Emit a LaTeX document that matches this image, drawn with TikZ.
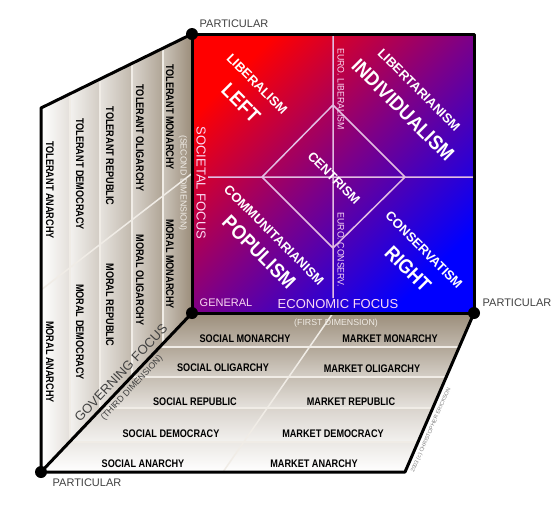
\documentclass[tikz,border=0pt]{standalone}
\usepackage{fontspec}
\setmainfont{Liberation Sans}
\usetikzlibrary{calc}
\definecolor{taupe}{RGB}{155,141,122}
\definecolor{seam}{RGB}{240,236,230}
\definecolor{pinkline}{RGB}{226,188,226}
\definecolor{pinktext}{RGB}{250,218,244}
\definecolor{purp}{RGB}{125,0,135}
\definecolor{ink}{RGB}{64,64,64}
\newcommand{\nar}[2][0.83]{\scalebox{#1}[1]{#2}}
\newcommand{\qsmall}[1]{{\fontsize{13}{13}\selectfont #1}}
\newcommand{\qbig}[1]{\scalebox{0.9}[1]{\fontsize{20}{20}\selectfont #1}}
\tikzset{
	rim/.style={line width=3pt,black,line join=round},
	pointlabel/.style={ink,font=\fontsize{11}{11}\selectfont,inner sep=0pt},
	panel/.style={font=\bfseries\fontsize{11}{11}\selectfont,inner sep=0pt},
	quad/.style={white,font=\bfseries,inner sep=0pt,rotate=-45},
	focus/.style={pinktext,font=\fontsize{13}{13}\selectfont,inner sep=0pt},
	dimlabel/.style={font=\fontsize{8.8}{9}\selectfont,inner sep=0pt}
}
\begin{document}
\begin{tikzpicture}[x=1pt,y=-1pt]
	\useasboundingbox (0,0) rectangle (560,512);
	% corners of the cube
	\coordinate (A) at (192,34);
	\coordinate (C) at (474,313);
	\coordinate (D) at (192,313);
	\coordinate (E) at (41,108);
	\coordinate (F) at (41,472);
	\coordinate (G) at (405,472);
	% left panel (second dimension)
	\begin{scope}
		\clip (A)--(E)--(F)--(D)--cycle;
		\foreach \a/\b/\l/\r in {41/70/0/28,70/100/12/45,100/132/25/62,132/163/38/80,163/192/52/100}{
			\shade[left color=taupe!\l!white,right color=taupe!\r!white] (\a,30) rectangle (\b,480);
		}
		\foreach \a in {70,100,132,163}{
			\draw[seam,line width=1.5pt] (\a,30)--(\a,480);
		}
		\draw[seam,line width=1.5pt] ($(A)!.5!(D)$)--($(E)!.5!(F)$);
	\end{scope}
	% bottom panel (first dimension)
	\begin{scope}
		\clip (D)--(C)--(G)--(F)--cycle;
		\foreach \a/\b/\t/\u in {313/347/100/62,347/377/78/42,377/408/58/26,408/442/38/12,442/472/20/0}{
			\shade[top color=taupe!\t!white,bottom color=taupe!\u!white] (30,\a) rectangle (480,\b);
		}
		\foreach \a in {347,377,408,442}{
			\draw[seam,line width=1.5pt] (30,\a)--(480,\a);
		}
		\draw[seam,line width=1.5pt] ($(D)!.5!(C)$)--($(F)!.5!(G)$);
	\end{scope}
	% front square
	\shade[top color=red,bottom color=blue,middle color=purp,shading angle=45] (A) rectangle (C);
	\coordinate (vt) at (333,36);
	\coordinate (vb) at (333,298);
	\coordinate (hl) at (208,177);
	\coordinate (hr) at (473,177);
	\coordinate (dl) at (262,177);
	\coordinate (dt) at (333,105);
	\coordinate (dr) at (405,177);
	\coordinate (db) at (333,248);
	\draw[pinkline,line width=1.5pt] (vt)--(vb) (hl)--(hr) (dl)--(dt)--(dr)--(db)--cycle;
	\foreach \x/\y/\f/\t [count=\i] in {257/84/\qsmall/LIBERALISM,241/103/\qbig/LEFT,419/90/\qsmall/LIBERTARIANISM,403/110/\qbig/INDIVIDUALISM,334/178/\qsmall/CENTRISM,274/235/\qsmall/COMMUNITARIANISM,259/252/\qbig/POPULISM,424/250/\qsmall/CONSERVATISM,408/269/\qbig/RIGHT}{
		\node[quad] (q\i) at (\x,\y) {\f{\t}};
	}
	\node[pinktext,font=\fontsize{9.5}{10}\selectfont,inner sep=0pt,rotate=-90] (euro1) at (341,89) {\nar[0.92]{EURO. LIBERALISM}};
	\node[pinktext,font=\fontsize{9.5}{10}\selectfont,inner sep=0pt,rotate=-90] (euro2) at (341,250) {\nar[0.92]{EURO. CONSERV.}};
	\node[focus,rotate=-90] (soc) at (201,183) {SOCIETAL FOCUS};
	\node[focus] (eco) at (338,304) {ECONOMIC FOCUS};
	\node[focus,font=\fontsize{11}{11}\selectfont] (gen) at (226,303) {GENERAL};
	% panel labels
	\foreach \x/\y/\t [count=\i] in {170/117/TOLERANT MONARCHY,140/138/TOLERANT OLIGARCHY,110/156/TOLERANT REPUBLIC,80/174/TOLERANT DEMOCRACY,50/190/TOLERANT ANARCHY,170/264/MORAL MONARCHY,140/280/MORAL OLIGARCHY,110/305/MORAL REPUBLIC,80/332/MORAL DEMOCRACY,50/362/MORAL ANARCHY}{
		\node[panel,rotate=-90] (s\i) at (\x,\y) {\nar{\t}};
	}
	\foreach \x/\y/\t [count=\i] in {245/339/SOCIAL MONARCHY,223/368/SOCIAL OLIGARCHY,195/402/SOCIAL REPUBLIC,171/434/SOCIAL DEMOCRACY,143/464/SOCIAL ANARCHY,390/339/MARKET MONARCHY,372/369/MARKET OLIGARCHY,351/402/MARKET REPUBLIC,333/434/MARKET DEMOCRACY,314/464/MARKET ANARCHY}{
		\node[panel] (f\i) at (\x,\y) {\nar{\t}};
	}
	\node[dimlabel,seam,rotate=-90] (dim2) at (183,183) {(SECOND DIMENSION)};
	\node[dimlabel,seam] (dim1) at (336,323) {(FIRST DIMENSION)};
	\node[ink,font=\fontsize{13}{13}\selectfont,inner sep=0pt,rotate=46.7] (gov) at (121,373) {GOVERNING FOCUS};
	\node[dimlabel,ink,rotate=46.7] (dim3) at (132,388) {(THIRD DIMENSION)};
	\node[gray,font=\fontsize{5.5}{6}\selectfont,inner sep=0pt,rotate=66.5] (copy) at (431,430) {2003 (c) CHRISTOPHER ERICKSON};
	% outline
	\draw[rim] (A)--(E)--(F)--(G)--(C);
	\draw[rim] (D)--(F);
	\draw[rim] (A) rectangle (C);
	\foreach \c in {A,D,C,F}{
		\fill (\c) circle (6pt);
	}
	\node[pointlabel] (p1) at (234,24) {PARTICULAR};
	\node[pointlabel] (p2) at (517,303) {PARTICULAR};
	\node[pointlabel] (p3) at (87,483) {PARTICULAR};
\end{tikzpicture}
\end{document}
